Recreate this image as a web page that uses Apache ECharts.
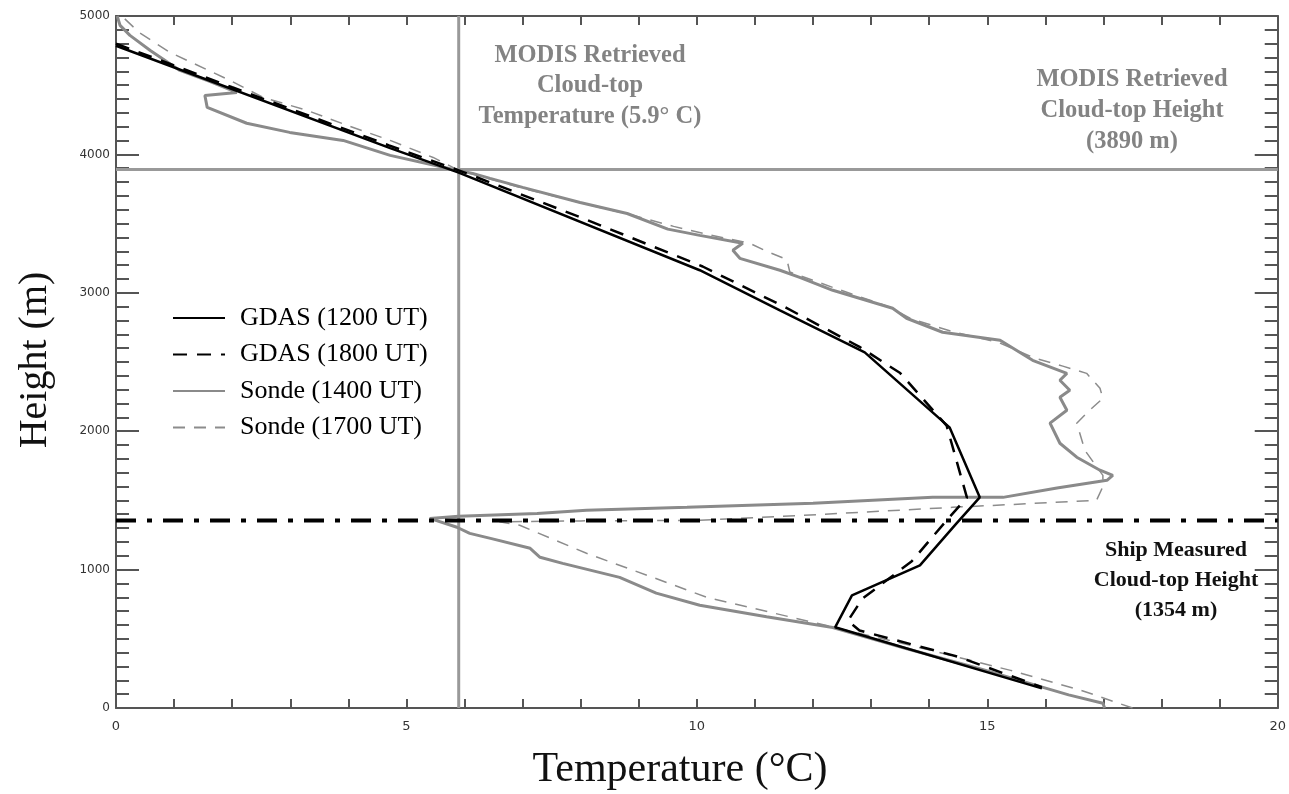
<!DOCTYPE html>
<html>
<head>
<meta charset="utf-8">
<script src="https://cdn.jsdelivr.net/npm/echarts@6/dist/echarts.min.js"></script>
<style>
html,body{margin:0;padding:0;background:#fff;}
#chart{width:1289px;height:794px;}
</style>
</head>
<body>
<div id="chart"></div>
<script>
// ---- data: [temperature (°C), height (m)] ----
const seriesNames = ['GDAS (1200 UT)', 'GDAS (1800 UT)', 'Sonde (1400 UT)', 'Sonde (1700 UT)'];

const gdas1200 = [[0,4785],[4.72,4045],[5.9,3868],[10.05,3163],[11.43,2873],[12.89,2570],[14.35,2028],[14.87,1522],[14.47,1334],[13.84,1031],[12.67,814],[12.38,583],[15.94,142]];

const gdas1800 = [[0,4800],[2.0,4485],[4.7,4065],[5.9,3885],[8.0,3545],[10.1,3190],[11.5,2900],[12.8,2610],[13.5,2420],[14.3,2040],[14.65,1520],[14.35,1380],[13.7,1060],[12.85,790],[12.6,630],[12.8,560],[14.5,370],[15.94,150]];

const sonde1400 = [[17.02,0],[16.99,34],[16.4,95],[15.96,149],[14.9,280],[13.6,430],[12.34,582],[11.2,660],[10.05,742],[9.3,830],[8.67,944],[7.69,1045],[7.3,1089],[7.13,1154],[6.5,1220],[6.09,1262],[5.87,1306],[5.4,1370],[5.9,1385],[7.25,1406],[8.1,1428],[9.83,1450],[12.0,1480],[14.06,1522],[15.27,1522],[16.2,1590],[17.06,1645],[17.16,1681],[16.94,1718],[16.54,1812],[16.25,1913],[16.08,2058],[16.37,2151],[16.25,2245],[16.42,2296],[16.25,2368],[16.37,2418],[15.78,2512],[15.22,2657],[14.23,2715],[13.61,2816],[13.37,2888],[12.34,3018],[11.77,3112],[11.43,3163],[10.74,3249],[10.62,3307],[10.79,3358],[10.05,3415],[9.5,3460],[8.8,3573],[7.99,3653],[7.0,3762],[6.44,3827],[6.14,3863],[5.87,3885],[5.5,3920],[4.72,3993],[3.91,4101],[2.99,4159],[2.25,4225],[1.57,4340],[1.53,4426],[2.08,4448],[1.6,4530],[1.1,4607],[0.59,4751],[0.24,4860],[0.07,4932],[0.02,5000]];

const sonde1700 = [[17.5,0],[16.6,130],[15.4,272],[13.8,440],[12.07,612],[10.17,800],[9.24,944],[8.1,1118],[6.95,1320],[6.6,1345],[8.0,1352],[10.05,1356],[12.2,1400],[14.4,1450],[16.88,1500],[16.99,1600],[16.99,1681],[16.68,1862],[16.54,2058],[16.76,2151],[16.99,2238],[16.94,2310],[16.71,2418],[16.3,2470],[15.8,2530],[15.2,2640],[14.4,2720],[13.7,2810],[13.3,2900],[12.4,3030],[11.6,3150],[11.55,3240],[11.2,3300],[10.9,3360],[10.2,3420],[9.6,3480],[8.9,3560],[8.1,3640],[7.1,3745],[6.5,3815],[5.9,3885],[5.46,3978],[4.72,4101],[3.98,4210],[3.29,4318],[2.53,4412],[1.96,4535],[0.93,4737],[0.4,4880],[0.1,5000]];

// reference values
const modisTemp = 5.9;
const modisHeight = 3890;
const shipHeight = 1354;
const xRange = [0, 20];
const yRange = [0, 5000];

const chart = echarts.init(document.getElementById('chart'), null, {renderer:'canvas'});

const axisCol = '#555';
function xAx(pos, showLabel){
  return {
    type:'value', position:pos, min:xRange[0], max:xRange[1], interval:5,
    axisLine:{show:true, onZero:false, lineStyle:{color:axisCol, width:2}},
    axisTick:{show:true, inside:true, length:9, lineStyle:{color:axisCol, width:2}},
    minorTick:{show:true, splitNumber:5, length:9, lineStyle:{color:axisCol, width:2}},
    splitLine:{show:false},
    axisLabel:{show:showLabel, margin:12, fontSize:13, color:'#333', fontFamily:'DejaVu Sans', formatter:(v)=>String(v)}
  };
}
function yAx(pos, showLabel){
  return {
    type:'value', position:pos, min:yRange[0], max:yRange[1], interval:1000,
    axisLine:{show:true, onZero:false, lineStyle:{color:axisCol, width:2}},
    axisTick:{show:true, inside:true, length:23, lineStyle:{color:axisCol, width:2}},
    minorTick:{show:true, splitNumber:10, length:13, lineStyle:{color:axisCol, width:2}},
    splitLine:{show:false},
    axisLabel:{show:showLabel, margin:6, fontSize:12, color:'#333', fontFamily:'DejaVu Sans', formatter:(v)=>String(v)}
  };
}

const lineBase = {type:'line', symbol:'none', showSymbol:false, xAxisIndex:0, yAxisIndex:0, animation:false};

const option = {
  backgroundColor:'#fff',
  animation:false,
  grid:{left:116, right:11, top:16, bottom:86},
  xAxis:[xAx('bottom', true), xAx('top', false)],
  yAxis:[yAx('left', true), yAx('right', false)],
  legend:{
    data:seriesNames, orient:'vertical', left:167, top:300,
    itemWidth:52, itemHeight:26, itemGap:10.5,
    itemStyle:{opacity:0},
    textStyle:{fontFamily:'Liberation Serif', fontSize:26, lineHeight:26, color:'#000', padding:[0,0,0,10]}
  },
  series:[
    Object.assign({}, lineBase, {name:'modisT', data:[[modisTemp, yRange[0]],[modisTemp, yRange[1]]], color:'#999', lineStyle:{color:'#999', width:3}, silent:true, z:1}),
    Object.assign({}, lineBase, {name:'modisH', data:[[xRange[0], modisHeight],[xRange[1], modisHeight]], color:'#999', lineStyle:{color:'#999', width:3}, silent:true, z:1}),
    Object.assign({}, lineBase, {name:seriesNames[3], data:sonde1700, color:'#8c8c8c', lineStyle:{color:'#8c8c8c', width:1.5, type:[12,9]}, z:2}),
    Object.assign({}, lineBase, {name:seriesNames[2], data:sonde1400, color:'#8a8a8a', lineStyle:{color:'#8a8a8a', width:3}, z:2}),
    Object.assign({}, lineBase, {name:seriesNames[1], data:gdas1800, color:'#000', lineStyle:{color:'#000', width:2.5, type:[14,10]}, z:3}),
    Object.assign({}, lineBase, {name:seriesNames[0], data:gdas1200, color:'#000', lineStyle:{color:'#000', width:2.5}, z:3}),
    Object.assign({}, lineBase, {name:'ship', data:[[xRange[0], shipHeight],[xRange[1], shipHeight]], color:'#000', lineStyle:{color:'#000', width:4, type:[20,11,5,11]}, silent:true, z:4})
  ],
  graphic:[
    {type:'text', x:590, y:40, z:10, style:{text:'MODIS Retrieved\nCloud-top\nTemperature (5.9° C)', fill:'#838383', font:'bold 24.5px "Liberation Serif"', lineHeight:30.5, align:'center', verticalAlign:'top'}},
    {type:'text', x:1132, y:64, z:10, style:{text:'MODIS Retrieved\nCloud-top Height\n(3890 m)', fill:'#838383', font:'bold 24.5px "Liberation Serif"', lineHeight:31, align:'center', verticalAlign:'top'}},
    {type:'text', x:1176, y:535, z:10, style:{text:'Ship Measured\nCloud-top Height\n(1354 m)', fill:'#111', font:'bold 22px "Liberation Serif"', lineHeight:30, align:'center', verticalAlign:'top'}},
    {type:'text', x:35, y:360, rotation:Math.PI/2, z:10, style:{text:'Height (m)', fill:'#111', font:'40px "Liberation Serif"', align:'center', verticalAlign:'middle'}},
    {type:'text', x:680, y:770, z:10, style:{text:'Temperature (°C)', fill:'#111', font:'42px "Liberation Serif"', align:'center', verticalAlign:'middle'}}
  ]
};
chart.setOption(option);
</script>
</body>
</html>
